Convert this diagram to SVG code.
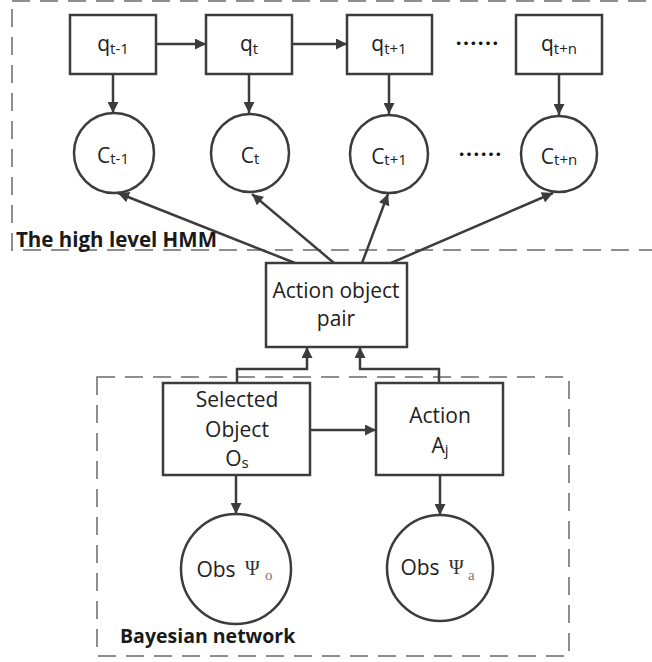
<svg xmlns="http://www.w3.org/2000/svg" width="652" height="662" viewBox="0 0 652 662">
  <style>
    .node { fill: #ffffff; stroke: #3c3c3c; stroke-width: 2.5; }
    .group { fill: none; stroke: #6a6a6a; stroke-width: 1.5; stroke-dasharray: 18 10; }
    .edge { fill: none; stroke: #3c3c3c; stroke-width: 2.5; marker-end: url(#arrow); }
    .lbl { font-family: "Open Sans", "Noto Sans", sans-serif; font-size: 21px; fill: #222; text-anchor: middle; }
    .sub { font-size: 15px; }
    .title { font-family: "Open Sans", "Noto Sans", sans-serif; font-size: 19.5px; font-weight: bold; fill: #1a1a1a; }
    .title-wide { font-size: 20.5px; }
    .greek { font-family: "Liberation Serif", "DejaVu Serif", serif; font-size: 20px; fill: #333; }
    .gsub { font-family: "Liberation Serif", "DejaVu Serif", serif; font-size: 15px; fill: #777; }
    .dots { font-family: "Noto Sans CJK SC", sans-serif; font-size: 22px; font-weight: bold; fill: #111; text-anchor: middle; }
  </style>
  <defs>
    <marker id="arrow" viewBox="0 0 10 10" refX="10" refY="5" markerWidth="4.8" markerHeight="4.4" orient="auto" markerUnits="strokeWidth">
      <path d="M0,0 L10,5 L0,10 z" fill="#3c3c3c"/>
    </marker>
  </defs>

  <!-- grouping frames -->
  <g id="hmm-frame">
    <rect class="group" x="12" y="1" width="660" height="249"/>
    <text class="title title-wide" x="16" y="247">The high level HMM</text>
  </g>
  <g id="bn-frame">
    <rect class="group" x="97" y="377" width="472" height="279"/>
    <text class="title" x="120" y="643">Bayesian network</text>
  </g>

  <!-- connectors -->
  <g id="connectors">
    <path class="edge" d="M156,44 H206"/>
    <path class="edge" d="M292,44 H347"/>
    <path class="edge" d="M113,74 V113"/>
    <path class="edge" d="M249,74 V113"/>
    <path class="edge" d="M389,74 V114"/>
    <path class="edge" d="M559,74 V115"/>
    <path class="edge" d="M295,263 L118,193"/>
    <path class="edge" d="M334,263 L252,194"/>
    <path class="edge" d="M362,263 L388,194"/>
    <path class="edge" d="M391,263 L553,193"/>
    <path class="edge" d="M237,383 V369 H307 V347"/>
    <path class="edge" d="M439,383 V369 H360 V347"/>
    <path class="edge" d="M310,430 H376"/>
    <path class="edge" d="M236,475 V514"/>
    <path class="edge" d="M440,475 V515"/>
  </g>

  <!-- hidden state chain -->
  <g id="q-t-1">
    <rect class="node" x="70" y="15" width="86" height="59"/>
    <text class="lbl" x="113" y="51">q<tspan class="sub" dy="3">t-1</tspan></text>
  </g>
  <g id="q-t">
    <rect class="node" x="206" y="15" width="86" height="59"/>
    <text class="lbl" x="249" y="51">q<tspan class="sub" dy="3">t</tspan></text>
  </g>
  <g id="q-t+1">
    <rect class="node" x="347" y="15" width="85" height="59"/>
    <text class="lbl" x="389" y="51">q<tspan class="sub" dy="3">t+1</tspan></text>
  </g>
  <text class="dots" x="477" y="51">……</text>
  <g id="q-t+n">
    <rect class="node" x="516" y="15" width="86" height="59"/>
    <text class="lbl" x="559" y="51">q<tspan class="sub" dy="3">t+n</tspan></text>
  </g>

  <!-- observed context chain -->
  <g id="c-t-1">
    <circle class="node" cx="114" cy="153" r="40"/>
    <text class="lbl" x="113" y="163">C<tspan class="sub" dy="1">t-1</tspan></text>
  </g>
  <g id="c-t">
    <circle class="node" cx="250" cy="153" r="39"/>
    <text class="lbl" x="250" y="163">C<tspan class="sub" dy="1">t</tspan></text>
  </g>
  <g id="c-t+1">
    <circle class="node" cx="389" cy="154" r="39"/>
    <text class="lbl" x="389" y="164">C<tspan class="sub" dy="1">t+1</tspan></text>
  </g>
  <text class="dots" x="480" y="162">……</text>
  <g id="c-t+n">
    <circle class="node" cx="559" cy="154" r="38"/>
    <text class="lbl" x="559" y="164">C<tspan class="sub" dy="1">t+n</tspan></text>
  </g>

  <!-- action / object pair -->
  <g id="action-object-pair">
    <rect class="node" x="266" y="263" width="141" height="84"/>
    <text class="lbl" x="336" y="298">Action object</text>
    <text class="lbl" x="336" y="326">pair</text>
  </g>

  <!-- Bayesian network nodes -->
  <g id="selected-object">
    <rect class="node" x="163" y="383" width="147" height="92"/>
    <text class="lbl" x="237" y="407">Selected</text>
    <text class="lbl" x="237" y="437">Object</text>
    <text class="lbl" x="237" y="466">O<tspan class="sub" dy="2">s</tspan></text>
  </g>
  <g id="action">
    <rect class="node" x="376" y="383" width="127" height="92"/>
    <text class="lbl" x="440" y="423">Action</text>
    <text class="lbl" x="440" y="453">A<tspan class="sub" dy="2">j</tspan></text>
  </g>
  <g id="obs-o">
    <circle class="node" cx="236" cy="569" r="55"/>
    <text class="lbl" x="216" y="577">Obs</text>
    <text class="greek" x="245" y="575">Ψ</text>
    <text class="gsub" x="265" y="580">o</text>
  </g>
  <g id="obs-a">
    <circle class="node" cx="440" cy="568" r="53"/>
    <text class="lbl" x="420" y="575">Obs</text>
    <text class="greek" x="449" y="574">Ψ</text>
    <text class="gsub" x="468" y="580">a</text>
  </g>
</svg>
